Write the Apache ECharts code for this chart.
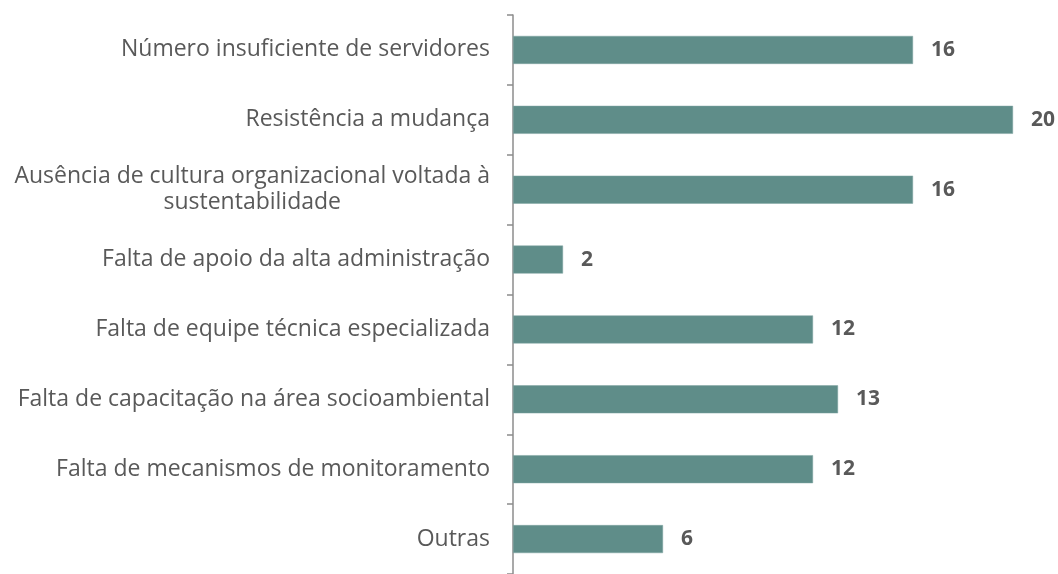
<!DOCTYPE html>
<html>
<head>
<meta charset="utf-8">
<script src="https://cdn.jsdelivr.net/npm/echarts@6/dist/echarts.min.js"></script>
<style>
  html, body { margin: 0; padding: 0; background: #fff; }
  #chart { width: 1058px; height: 574px; }
</style>
</head>
<body>
<div id="chart"></div>
<script>
let categories = [
  'Número insuficiente de servidores',
  'Resistência a mudança',
  'Ausência de cultura organizacional voltada à\nsustentabilidade',
  'Falta de apoio da alta administração',
  'Falta de equipe técnica especializada',
  'Falta de capacitação na área socioambiental',
  'Falta de mecanismos de monitoramento',
  'Outras'
]
let values = [16, 20, 16, 2, 12, 13, 12, 6]

let myChart = echarts.init(document.getElementById('chart'))
let option = {
  animation: false,
  grid: {
    left: 513,
    right: 45,
    top: 15,
    height: 560
  },
  xAxis: {
    type: 'value',
    min: 0,
    max: 20,
    show: false
  },
  yAxis: {
    type: 'category',
    inverse: true,
    data: categories,
    axisLine: { lineStyle: { color: '#8c8c8c', width: 1.5 } },
    axisTick: { show: true, length: 6, lineStyle: { color: '#8c8c8c', width: 1.5 } },
    axisLabel: {
      margin: 23,
      color: '#595959',
      fontFamily: 'Open Sans',
      fontSize: 23,
      lineHeight: 26,
      formatter: v => v.split('\n').map(s => '{c|' + s + '}').join('\n'),
      rich: {
        c: { align: 'center', color: '#595959', fontFamily: 'Open Sans', fontSize: 23, lineHeight: 26 }
      }
    }
  },
  series: [{
    type: 'bar',
    data: values,
    barWidth: 28,
    itemStyle: { color: '#5f8d89', borderColor: '#7fa5a1', borderWidth: 0.5 },
    label: {
      show: true,
      position: 'right',
      distance: 18,
      color: '#595959',
      fontFamily: 'Open Sans',
      fontWeight: 'bold',
      fontSize: 21
    }
  }]
}
myChart.setOption(option)
</script>
</body>
</html>
